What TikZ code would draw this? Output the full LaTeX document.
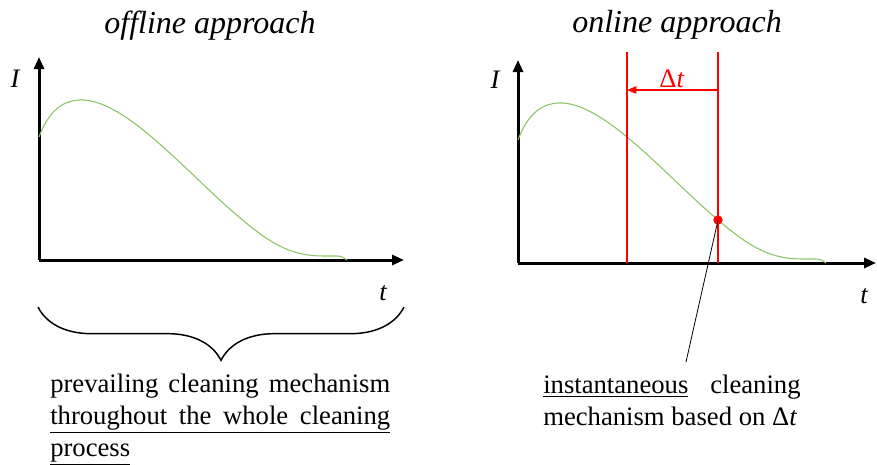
\documentclass[tikz,border=0pt]{standalone}
\usepackage{fontspec}
\setmainfont{Liberation Serif}
\usetikzlibrary{arrows.meta,decorations.pathreplacing}
\definecolor{curvegreen}{RGB}{140,196,100}

\begin{document}
\begin{tikzpicture}[x=0.75pt,y=-0.75pt,
  axis/.style={line width=2.25pt, -{Triangle[length=9pt,width=7.5pt]}},
  current/.style={curvegreen, line width=0.8pt},
  window/.style={red, line width=0.8pt},
  heading/.style={font=\fontsize{24}{28}\selectfont\itshape},
  axislabel/.style={font=\fontsize{20}{24}\selectfont\itshape},
  note/.style={font=\fontsize{20}{24}\selectfont, align=left, inner sep=0pt, anchor=north west}]
\useasboundingbox (0,0) rectangle (877,464);

% offline approach
\coordinate (oL) at (39,260);
\coordinate (yL) at (39,57);
\coordinate (xL) at (404,260);

\node[heading, anchor=base] (titleL) at (210,33) {offline approach};

\draw[axis] (oL) -- (yL);
\draw[axis] (oL) -- (xL);
\node[axislabel, anchor=base] (IL) at (15,87) {I};
\node[axislabel, anchor=base] (tL) at (383,300) {t};

\draw[current, shift={(oL)}] (0,-123) .. controls (10,-150) and (25,-161) .. (45,-160)
  .. controls (90,-157) and (150,-85) .. (200,-43)
  .. controls (235,-13) and (255,-4) .. (285,-4) -- (298,-4)
  .. controls (303,-4) and (305,-2) .. (308,0);

\coordinate (braceA) at (38,307);
\coordinate (braceB) at (404,307);
\draw[line width=1.1pt, decorate, decoration={brace, mirror, amplitude=40pt}] (braceA) -- (braceB);

\node[note] (textL) at (50,374) {%
  \makebox[255pt][s]{prevailing cleaning mechanism}\\
  \underline{\makebox[255pt][s]{throughout the whole cleaning}}\\
  \underline{process}};

% online approach
\coordinate (oR) at (518,263);
\coordinate (yR) at (518,60);
\coordinate (xR) at (876,263);

\node[heading, anchor=base] (titleR) at (677,32) {online approach};

\draw[axis] (oR) -- (yR);
\draw[axis] (oR) -- (xR);
\node[axislabel, anchor=base] (IR) at (495,88) {I};
\node[axislabel, anchor=base] (tR) at (864,303) {t};

\draw[current, shift={(oR)}] (0,-123) .. controls (10,-150) and (25,-161) .. (45,-160)
  .. controls (90,-157) and (150,-85) .. (200,-43)
  .. controls (235,-13) and (255,-4) .. (285,-4) -- (298,-4)
  .. controls (303,-4) and (305,-2) .. (308,0);

\coordinate (w1top) at (627,52);
\coordinate (w1bot) at (627,263);
\coordinate (w2top) at (718,52);
\coordinate (w2bot) at (718,263);
\draw[window] (w1top) -- (w1bot);
\draw[window] (w2top) -- (w2bot);

\coordinate (dtR) at (718,90);
\coordinate (dtL) at (627,90);
\draw[window, -{Triangle[length=7pt,width=5.5pt]}] (dtR) -- (dtL);
\node[red, font=\fontsize{20}{24}\selectfont, anchor=base] (dt) at (672,87) {Δ\textit{t}};

\node[circle, fill=red, minimum size=7pt, inner sep=0pt] (now) at (718,220) {};

\node[note] (textR) at (543,375) {%
  \makebox[193pt][s]{\underline{instantaneous}\hfill cleaning}\\
  mechanism based on Δ\textit{t}};

\coordinate (pin) at (686,362);
\draw[line width=0.6pt] (now.center) -- (pin);
\end{tikzpicture}
\end{document}
